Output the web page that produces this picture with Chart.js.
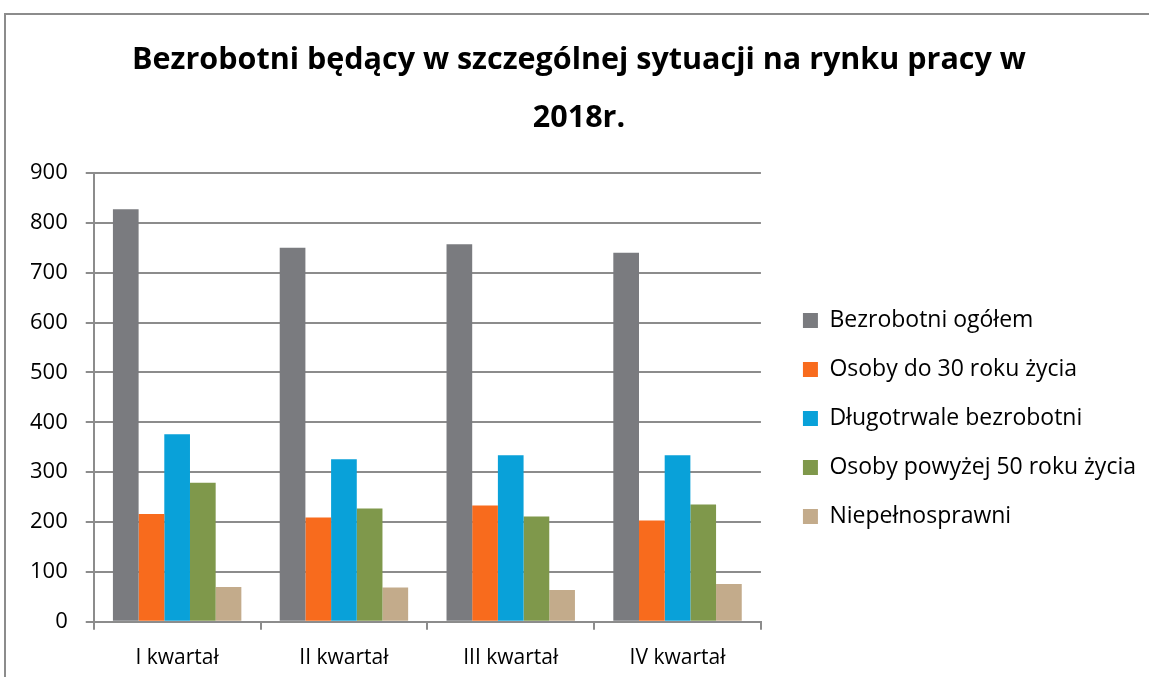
<!DOCTYPE html>
<html>
<head>
<meta charset="utf-8">
<script src="https://cdn.jsdelivr.net/npm/chart.js@4"></script>
<style>
  html, body { margin: 0; padding: 0; background: #fff; }
  #wrap { position: relative; width: 1149px; height: 677px; }
  #frame { position: absolute; left: 4px; top: 13px; width: 1160px; height: 700px;
           border: 2px solid #8c8c8c; box-sizing: border-box; pointer-events: none; }
</style>
</head>
<body>
<div id="wrap">
  <canvas id="dataChart" width="1149" height="677"></canvas>
  <div id="frame"></div>
</div>
<script>
const labels = ['I kwartał', 'II kwartał', 'III kwartał', 'IV kwartał'];
const ogolem = [827, 750, 757, 740];
const do30 = [216, 209, 233, 203];
const dlugotrwale = [376, 326, 334, 334];
const pow50 = [279, 227, 211, 235];
const niepelnosprawni = [70, 69, 64, 76];

const font = 'Open Sans';
const legendGap = 16;
const legendShift = 75;

const ctx = document.getElementById('dataChart');

// legend sits a bit away from the plot area and lower, like in the original
const legendGapPlugin = {
    id: 'legendGap',
    afterInit(chart) {
        const fit = chart.legend.fit;
        chart.legend.fit = function() {
            fit.call(this);
            this.width += legendGap;
        };
    },
    afterLayout(chart) {
        chart.legend.left += legendGap;
        chart.legend.top += legendShift;
        chart.legend.bottom += legendShift;
    }
};

var chartData = {
    labels: labels,
    datasets: [
        { label: 'Bezrobotni ogółem', data: ogolem, backgroundColor: '#7a7b7f' },
        { label: 'Osoby do 30 roku życia', data: do30, backgroundColor: '#f86b1d' },
        { label: 'Długotrwale bezrobotni', data: dlugotrwale, backgroundColor: '#09a1d9' },
        { label: 'Osoby powyżej 50 roku życia', data: pow50, backgroundColor: '#7f984b' },
        { label: 'Niepełnosprawni', data: niepelnosprawni, backgroundColor: '#c3ab8b' }
    ]
};

var chartOptions = {
    responsive: false,
    animation: false,
    layout: { padding: { left: 12, right: 3, top: 0, bottom: -10 } },
    datasets: { bar: { categoryPercentage: 0.77, barPercentage: 1.0 } },
    scales: {
        x: {
            grid: { drawOnChartArea: false, color: '#8c8c8c', lineWidth: 2, tickLength: 8 },
            border: { color: '#8c8c8c', width: 2 },
            ticks: { color: '#000', font: { family: font, size: 21 }, padding: 16 }
        },
        y: {
            min: 0,
            max: 900,
            ticks: { stepSize: 100, color: '#000', font: { family: font, size: 22 }, padding: 18 },
            grid: { color: '#8c8c8c', lineWidth: 2, tickLength: 8 },
            border: { color: '#8c8c8c', width: 2 }
        }
    },
    plugins: {
        title: {
            display: true,
            text: ['Bezrobotni będący w szczególnej sytuacji na rynku pracy w', '2018r.'],
            color: '#000',
            font: { family: font, size: 30.5, weight: 'bold', lineHeight: 1.9 },
            padding: { top: 31, bottom: 26 }
        },
        legend: {
            position: 'right',
            maxWidth: 420,
            labels: {
                color: '#000',
                font: { family: font, size: 23 },
                boxWidth: 15,
                boxHeight: 15,
                padding: 26
            }
        },
        tooltip: { enabled: false }
    }
};

var myChart = new Chart(ctx, {
    type: 'bar',
    data: chartData,
    options: chartOptions,
    plugins: [legendGapPlugin]
});
</script>
</body>
</html>
